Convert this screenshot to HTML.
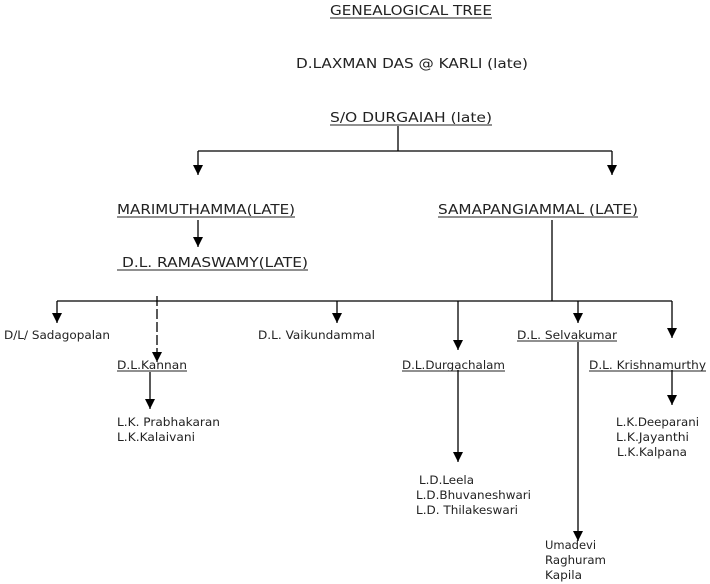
<!DOCTYPE html>
<html><head><meta charset="utf-8"><style>
html,body{margin:0;padding:0;background:#fff;width:710px;height:584px;overflow:hidden}
svg{display:block}
text{font-family:"DejaVu Sans","Liberation Sans",sans-serif;fill:#222}
.h{font-size:13px}
.s{font-size:11.5px}
</style></head><body>
<svg width="710" height="584" viewBox="0 0 710 584" xmlns="http://www.w3.org/2000/svg">
<defs><marker id="a" markerWidth="10" markerHeight="10" refX="10" refY="5" orient="auto" markerUnits="userSpaceOnUse"><path d="M0,0 L10,5 L0,10 z" fill="#000"/></marker></defs>
<g class="h">
<text x="330" y="15" textLength="162" lengthAdjust="spacingAndGlyphs">GENEALOGICAL TREE</text>
<text x="296" y="68" textLength="232" lengthAdjust="spacingAndGlyphs">D.LAXMAN DAS @ KARLI (late)</text>
<text x="330" y="122" textLength="162" lengthAdjust="spacingAndGlyphs">S/O DURGAIAH (late)</text>
<text x="117" y="214" textLength="178" lengthAdjust="spacingAndGlyphs">MARIMUTHAMMA(LATE)</text>
<text x="122" y="267" textLength="186" lengthAdjust="spacingAndGlyphs">D.L. RAMASWAMY(LATE)</text>
<text x="438" y="214" textLength="200" lengthAdjust="spacingAndGlyphs">SAMAPANGIAMMAL (LATE)</text>
</g>
<g stroke="#222" stroke-width="1">
<line x1="330" y1="18" x2="492" y2="18"/>
<line x1="330" y1="125" x2="492" y2="125"/>
<line x1="117" y1="217" x2="295" y2="217"/>
<line x1="117" y1="270" x2="308" y2="270"/>
<line x1="438" y1="217" x2="638" y2="217"/>
<line x1="117" y1="371" x2="187" y2="371"/>
<line x1="402" y1="371" x2="505" y2="371"/>
<line x1="517" y1="341" x2="617" y2="341"/>
<line x1="589" y1="371" x2="706" y2="371"/>
</g>
<g stroke="#000" stroke-width="1.3" fill="none">
<line x1="398" y1="126" x2="398" y2="151"/>
<line x1="198" y1="151" x2="612" y2="151"/>
<line x1="198" y1="151" x2="198" y2="175" marker-end="url(#a)"/>
<line x1="612" y1="151" x2="612" y2="175" marker-end="url(#a)"/>
<line x1="198" y1="220" x2="198" y2="247" marker-end="url(#a)"/>
<line x1="552" y1="220" x2="552" y2="301"/>
<line x1="57" y1="301" x2="672" y2="301"/>
<line x1="57" y1="301" x2="57" y2="323" marker-end="url(#a)"/>
<line x1="157" y1="296" x2="157" y2="362" stroke-dasharray="10,3" marker-end="url(#a)"/>
<line x1="337" y1="301" x2="337" y2="323" marker-end="url(#a)"/>
<line x1="458" y1="301" x2="458" y2="350" marker-end="url(#a)"/>
<line x1="578" y1="301" x2="578" y2="323" marker-end="url(#a)"/>
<line x1="672" y1="301" x2="672" y2="338" marker-end="url(#a)"/>
<line x1="150" y1="372" x2="150" y2="409" marker-end="url(#a)"/>
<line x1="458" y1="370" x2="458" y2="462" marker-end="url(#a)"/>
<line x1="578" y1="342" x2="578" y2="541" marker-end="url(#a)"/>
<line x1="672" y1="370" x2="672" y2="405" marker-end="url(#a)"/>
</g>
<g class="s">
<text x="4" y="339" textLength="106" lengthAdjust="spacingAndGlyphs">D/L/ Sadagopalan</text>
<text x="258" y="339" textLength="117" lengthAdjust="spacingAndGlyphs">D.L. Vaikundammal</text>
<text x="117" y="369" textLength="70" lengthAdjust="spacingAndGlyphs">D.L.Kannan</text>
<text x="402" y="369" textLength="103" lengthAdjust="spacingAndGlyphs">D.L.Durgachalam</text>
<text x="517" y="339" textLength="100" lengthAdjust="spacingAndGlyphs">D.L. Selvakumar</text>
<text x="589" y="369" textLength="117" lengthAdjust="spacingAndGlyphs">D.L. Krishnamurthy</text>
<text x="117" y="426" textLength="103" lengthAdjust="spacingAndGlyphs">L.K. Prabhakaran</text>
<text x="117" y="441" textLength="78" lengthAdjust="spacingAndGlyphs">L.K.Kalaivani</text>
<text x="419" y="484" textLength="55" lengthAdjust="spacingAndGlyphs">L.D.Leela</text>
<text x="416" y="499" textLength="115" lengthAdjust="spacingAndGlyphs">L.D.Bhuvaneshwari</text>
<text x="416" y="514" textLength="102" lengthAdjust="spacingAndGlyphs">L.D. Thilakeswari</text>
<text x="545" y="549">Umadevi</text>
<text x="545" y="564" textLength="61" lengthAdjust="spacingAndGlyphs">Raghuram</text>
<text x="545" y="579" textLength="37" lengthAdjust="spacingAndGlyphs">Kapila</text>
<text x="616" y="426" textLength="83" lengthAdjust="spacingAndGlyphs">L.K.Deeparani</text>
<text x="616" y="441" textLength="73" lengthAdjust="spacingAndGlyphs">L.K.Jayanthi</text>
<text x="617" y="456" textLength="70" lengthAdjust="spacingAndGlyphs">L.K.Kalpana</text>
</g>
</svg>
</body></html>
